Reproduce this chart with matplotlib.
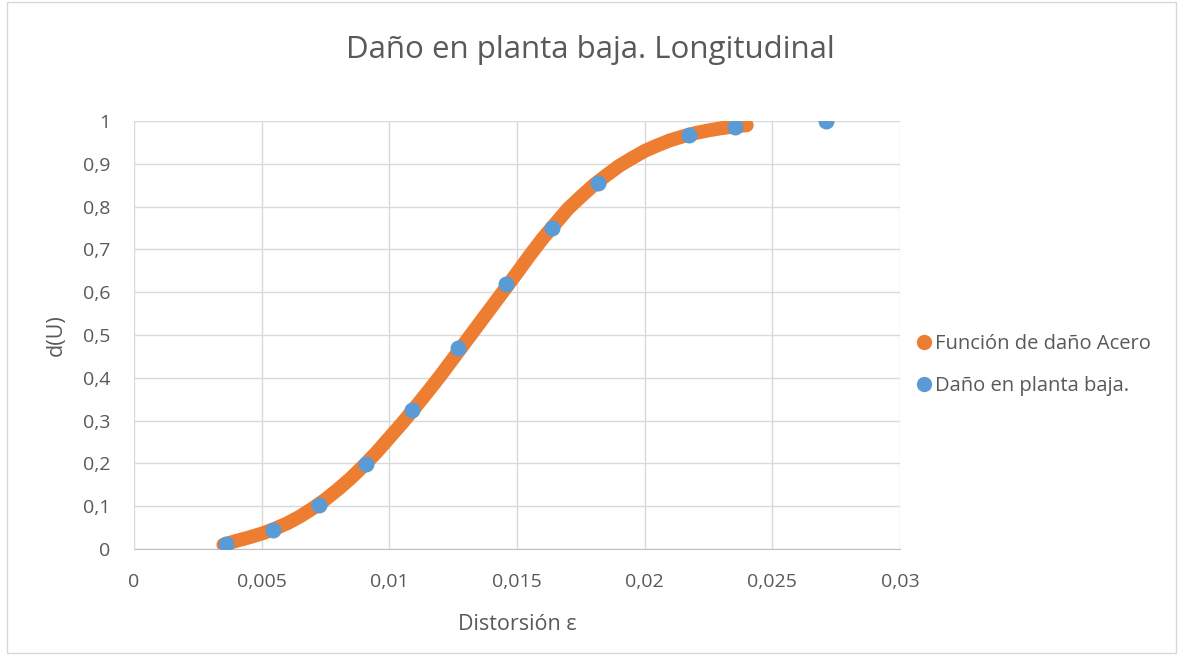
import numpy as np
import matplotlib.pyplot as plt
from matplotlib.ticker import FuncFormatter, MultipleLocator
from matplotlib.patches import Rectangle

plt.rcParams['font.family'] = ['Open Sans', 'DejaVu Sans']

# curva de daño
curve_x = [0.0035, 0.004, 0.0045, 0.005, 0.0055, 0.006, 0.0065, 0.007, 0.0075, 0.008,
           0.0085, 0.009, 0.0095, 0.010, 0.0105, 0.011, 0.0115, 0.012, 0.0125, 0.013,
           0.0135, 0.014, 0.0145, 0.015, 0.0155, 0.016, 0.0165, 0.017, 0.0175, 0.018,
           0.0185, 0.019, 0.0195, 0.020, 0.0205, 0.021, 0.0215, 0.022, 0.0225, 0.023,
           0.0235, 0.024]
curve_y = [0.010, 0.019, 0.027, 0.036, 0.047, 0.060, 0.076, 0.095, 0.116, 0.140,
           0.166, 0.195, 0.226, 0.260, 0.294, 0.330, 0.367, 0.405, 0.445, 0.485,
           0.525, 0.565, 0.605, 0.645, 0.686, 0.725, 0.760, 0.795, 0.823, 0.850,
           0.873, 0.895, 0.913, 0.930, 0.943, 0.955, 0.964, 0.972, 0.978, 0.983,
           0.987, 0.990]

# puntos de daño en planta baja
pts_x = [0.0036, 0.00544, 0.00725, 0.00909, 0.01089, 0.01269, 0.01457, 0.01637,
         0.01817, 0.02174, 0.02354, 0.0271]
pts_y = [0.012, 0.044, 0.103, 0.199, 0.325, 0.470, 0.619, 0.750, 0.855, 0.967, 0.986, 1.0]

orange = '#ED7D31'
blue = '#5B9BD5'
txt = '#595959'

fig = plt.figure(figsize=(11.81, 6.55), dpi=100)
fig.patches.append(Rectangle((0.006, 0.003), 0.99, 0.994, transform=fig.transFigure,
                             fill=False, edgecolor='#D9D9D9', linewidth=1))
ax = fig.add_axes([0.1135, 0.1618, 0.6485, 0.6535])

ax.plot(curve_x, curve_y, color=orange, linewidth=10, solid_capstyle='round',
        solid_joinstyle='round', label='Función de daño Acero', zorder=3)
ax.plot(pts_x, pts_y, 'o', color=blue, markersize=10.5, label='Daño en planta baja.', zorder=4)

ax.set_xlim(0, 0.03)
ax.set_ylim(0, 1)
ax.xaxis.set_major_locator(MultipleLocator(0.005))
ax.yaxis.set_major_locator(MultipleLocator(0.1))
fmt = FuncFormatter(lambda v, p: ('%g' % round(v, 4)).replace('.', ','))
ax.xaxis.set_major_formatter(fmt)
ax.yaxis.set_major_formatter(fmt)
ax.grid(True, color='#D9D9D9', linewidth=1)
ax.set_axisbelow(True)
for s in ['left', 'right', 'top']:
    ax.spines[s].set_visible(False)
ax.spines['bottom'].set_color('#BFBFBF')
ax.tick_params(length=0, labelsize=14, labelcolor=txt)
ax.tick_params(axis='x', pad=17)
ax.tick_params(axis='y', pad=17)
ax.set_xlabel('Distorsión ε', fontsize=15.5, color=txt, labelpad=17)
ax.set_ylabel('d(U)', fontsize=15.5, color=txt, labelpad=12)
fig.text(0.5, 1 - 50 / 655, 'Daño en planta baja. Longitudinal', fontsize=22.5,
         color=txt, ha='center', va='center')

leg = fig.legend(loc='center left', bbox_to_anchor=(0.762, 0.443), frameon=False,
                 fontsize=14.5, handlelength=0.6, handletextpad=0.25, labelspacing=1.1,
                 labelcolor=txt)
for h in leg.legend_handles:
    h.set_linestyle('None')
    h.set_marker('o')
    h.set_markersize(10)

fig.savefig('out.png', dpi=100)
